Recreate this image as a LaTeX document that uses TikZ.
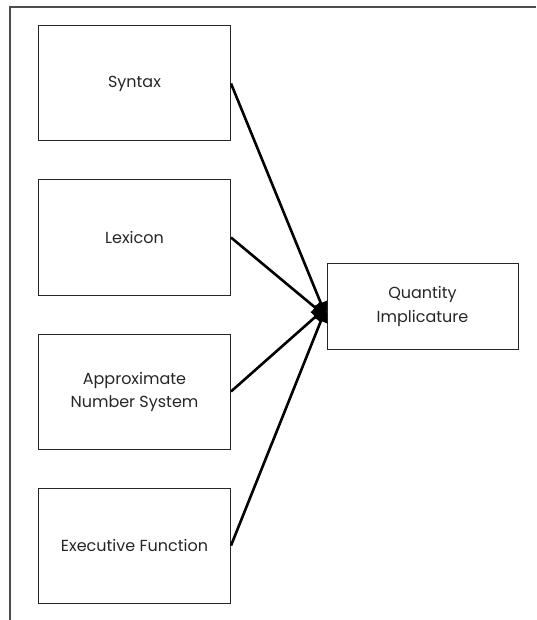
\documentclass[tikz,border=0pt]{standalone}
\usepackage{fontspec}
\setmainfont{Poppins}
\usetikzlibrary{arrows.meta}
\begin{document}
\begin{tikzpicture}[x=1pt,y=-1pt,
  factor/.style={draw=black!85,line width=1pt,minimum width=192pt,minimum height=115pt,
    align=center,font=\fontsize{16}{23}\selectfont,inner sep=0pt,text=black!85},
  outcome/.style={draw=black!85,line width=1pt,minimum width=191pt,minimum height=86pt,
    align=center,font=\fontsize{16}{24}\selectfont,inner sep=0pt,text=black!85},
  link/.style={line width=2.6pt,-{Triangle[length=15pt,width=13pt]}},
  frame/.style={draw=black!70,line width=1.5pt}]
\useasboundingbox (0,0) rectangle (536,620);
% partial frame: top and left sides
\coordinate (ftl) at (10,7);
\coordinate (ftr) at (536,7);
\coordinate (fbl) at (10,620);
\draw[frame] (ftr) -- (ftl) -- (fbl);
% predictor boxes
\node[factor] (syn) at (134.5,83.5) {Syntax};
\node[factor] (lex) at (134.5,237.5) {Lexicon};
\node[factor] (ans) at (134.5,391.5) {Approximate\\Number System};
\node[factor] (exe) at (134.5,545.5) {Executive Function};
% outcome box
\node[outcome] (qi) at (422.5,306) {Quantity\\Implicature};
% arrow targets on the outcome box
\coordinate (tA) at ([yshift=-11pt]qi.west);
\coordinate (tB) at ([yshift=-1pt]qi.west);
\draw[link] (syn.east) -- (tA);
\draw[link] (lex.east) -- (tA);
\draw[link] (ans.east) -- (tB);
\draw[link] (exe.east) -- (tB);
\end{tikzpicture}
\end{document}
